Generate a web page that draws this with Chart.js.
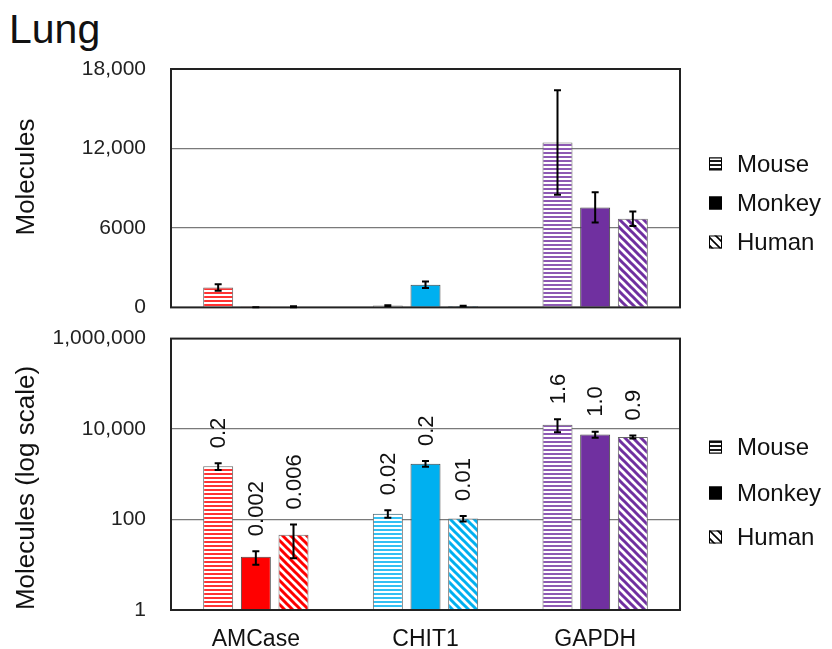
<!DOCTYPE html>
<html><head><meta charset="utf-8">
<script src="https://cdn.jsdelivr.net/npm/chart.js@4.4.1/dist/chart.umd.min.js"></script>
<style>
html,body{margin:0;padding:0;background:#fff;width:832px;height:649px;overflow:hidden;}
#title{position:absolute;left:9px;top:9px;font:41px/41px "Liberation Sans",Arial,sans-serif;color:#111;}
#w1{position:absolute;left:0;top:0;width:832px;height:345px;}
#w2{position:absolute;left:0;top:301px;width:832px;height:348px;}
</style></head><body>
<div id="title">Lung</div>
<div id="w1"><canvas id="c1"></canvas></div>
<div id="w2"><canvas id="c2"></canvas></div>
<script>
// ---- data ----
const genes = ['AMCase', 'CHIT1', 'GAPDH'];
const species = ['Mouse', 'Monkey', 'Human'];
const geneColors = ['#FF0000', '#00B0F0', '#7030A0'];

const mouseVals  = [1500, 135, 12450];
const mouseErr   = [250, 25, 3950];
const monkeyVals = [15, 1710, 7550];
const monkeyErr  = [5, 250, 1140];
const humanVals  = [46, 105, 6700];
const humanErr   = [32, 15, 550];

const mouseRatio  = ['0.2', '0.02', '1.6'];
const monkeyRatio = ['0.002', '0.2', '1.0'];
const humanRatio  = ['0.006', '0.01', '0.9'];

const linearTicks = [0, 6000, 12000, 18000];
const linearTickLabels = ['0', '6000', '12,000', '18,000'];
const logTicks = [1, 100, 10000, 1000000];
const logTickLabels = ['1', '100', '10,000', '1,000,000'];

const yTitleTop = 'Molecules';
const yTitleBottom = 'Molecules (log scale)';

// ---- styling helpers ----
const F = '"Liberation Sans", Arial, sans-serif';

function hPattern(color, alpha) {
  const c = document.createElement('canvas'); c.width = 4; c.height = 4;
  const x = c.getContext('2d');
  x.fillStyle = '#ffffff'; x.fillRect(0, 0, 4, 4);
  x.globalAlpha = alpha || 1;
  x.fillStyle = color; x.fillRect(0, 0, 4, 2);
  return x.createPattern(c, 'repeat');
}
function dPattern(color, w) {
  const s = 8;
  const c = document.createElement('canvas'); c.width = s; c.height = s;
  const x = c.getContext('2d');
  x.fillStyle = '#ffffff'; x.fillRect(0, 0, s, s);
  x.strokeStyle = color; x.lineWidth = w || 3; x.lineCap = 'square';
  x.beginPath();
  for (const k of [-1, 0, 1]) { x.moveTo(k * s - 2, -2); x.lineTo(k * s + s + 2, s + 2); }
  x.stroke();
  return x.createPattern(c, 'repeat');
}

function makeDatasets() {
  return [
    { label: species[0], data: mouseVals, errors: mouseErr, ratios: mouseRatio,
      backgroundColor: geneColors.map(c => hPattern(c, 0.8)), borderColor: '#666', borderWidth: 1 },
    { label: species[1], data: monkeyVals, errors: monkeyErr, ratios: monkeyRatio,
      backgroundColor: geneColors, borderColor: '#444', borderWidth: 1 },
    { label: species[2], data: humanVals, errors: humanErr, ratios: humanRatio,
      backgroundColor: geneColors.map(c => dPattern(c)), borderColor: '#666', borderWidth: 1 }
  ];
}

function makePlugins(opt) {
  return [{
    id: 'extras',
    afterDatasetsDraw(chart) {
      const ctx = chart.ctx, ys = chart.scales.y, a = chart.chartArea;
      // plot box
      ctx.save();
      ctx.strokeStyle = '#222'; ctx.lineWidth = 2;
      ctx.strokeRect(a.left, a.top, a.right - a.left, a.bottom - a.top);
      ctx.restore();
      // error bars + labels
      chart.data.datasets.forEach((ds, i) => {
        const meta = chart.getDatasetMeta(i);
        meta.data.forEach((bar, j) => {
          const v = ds.data[j], e = ds.errors[j];
          const top = ys.getPixelForValue(v + e);
          const bot = ys.getPixelForValue(Math.max(v - e, ys.min));
          ctx.save();
          ctx.strokeStyle = '#000'; ctx.lineWidth = 2;
          ctx.beginPath();
          ctx.moveTo(bar.x, top); ctx.lineTo(bar.x, bot);
          ctx.moveTo(bar.x - 3.5, top); ctx.lineTo(bar.x + 3.5, top);
          ctx.moveTo(bar.x - 3.5, bot); ctx.lineTo(bar.x + 3.5, bot);
          ctx.stroke();
          if (opt.labels) {
            ctx.translate(bar.x + 1, top - 15);
            ctx.rotate(-Math.PI / 2);
            ctx.fillStyle = '#111';
            ctx.font = '22px ' + F;
            ctx.textAlign = 'left'; ctx.textBaseline = 'middle';
            ctx.fillText(ds.ratios[j], 0, 0);
          }
          ctx.restore();
        });
      });
    },
    afterDraw(chart) {
      const ctx = chart.ctx;
      // y title
      ctx.save();
      ctx.translate(opt.titleX, opt.titleY);
      ctx.rotate(-Math.PI / 2);
      ctx.fillStyle = '#111';
      ctx.font = '26px ' + F;
      ctx.textAlign = 'center'; ctx.textBaseline = 'middle';
      ctx.fillText(opt.title, 0, 0);
      ctx.restore();
      // legend
      const icons = [hPattern('#000', 0.9), '#000', dPattern('#000', 1.6)];
      chart.data.datasets.forEach((ds, i) => {
        const cy = opt.legendY[i];
        ctx.save();
        ctx.fillStyle = icons[i];
        ctx.fillRect(709, cy - 6.5, 13, 13);
        ctx.strokeStyle = '#000'; ctx.lineWidth = 1;
        ctx.strokeRect(709.5, cy - 6, 12, 12);
        ctx.fillStyle = '#111';
        ctx.font = '24px ' + F;
        ctx.textAlign = 'left'; ctx.textBaseline = 'middle';
        ctx.fillText(ds.label, 737, cy + 1);
        ctx.restore();
      });
    }
  }];
}

function gridColor(minV, maxV) {
  return c => (c.tick && (c.tick.value === minV || c.tick.value === maxV)) ? 'rgba(0,0,0,0)' : '#7a7a7a';
}

// ---- top chart (linear) ----
new Chart(document.getElementById('c1'), {
  type: 'bar',
  data: { labels: genes, datasets: makeDatasets() },
  options: {
    responsive: true, maintainAspectRatio: false, animation: false,
    layout: { padding: { top: 69, bottom: 0, right: 152, left: 0 } },
    datasets: { bar: { categoryPercentage: 0.666, barPercentage: 0.796 } },
    plugins: { legend: { display: false }, tooltip: { enabled: false } },
    scales: {
      x: { display: false, offset: true },
      y: {
        type: 'linear', min: 0, max: 18000,
        afterBuildTicks: s => { s.ticks = linearTicks.map(v => ({ value: v })); },
        afterFit: s => { s.width = 171; },
        ticks: { padding: 25, color: '#222', font: { size: 21, family: F },
                 callback: (v, i) => linearTickLabels[i] },
        grid: { drawTicks: false, color: gridColor(0, 18000), lineWidth: 1.3 },
        border: { display: false }
      }
    }
  },
  plugins: makePlugins({ labels: false, title: yTitleTop, titleX: 27, titleY: 177, legendY: [164, 203, 242] })
});

// ---- bottom chart (log) ----
new Chart(document.getElementById('c2'), {
  type: 'bar',
  data: { labels: genes, datasets: makeDatasets() },
  options: {
    responsive: true, maintainAspectRatio: false, animation: false,
    layout: { padding: { top: 0, bottom: 0, right: 152, left: 0 } },
    datasets: { bar: { categoryPercentage: 0.666, barPercentage: 0.796 } },
    plugins: { legend: { display: false }, tooltip: { enabled: false } },
    scales: {
      x: {
        type: 'category', offset: true,
        afterFit: s => { s.height = 39; },
        ticks: { padding: 16, color: '#111', font: { size: 23, family: F }, maxRotation: 0 },
        grid: { display: false, drawTicks: false },
        border: { display: false }
      },
      y: {
        type: 'logarithmic', min: 1, max: 1000000,
        afterBuildTicks: s => { s.ticks = logTicks.map(v => ({ value: v })); },
        afterFit: s => { s.width = 171; },
        ticks: { padding: 25, color: '#222', font: { size: 21, family: F },
                 callback: (v, i) => logTickLabels[i] },
        grid: { drawTicks: false, color: gridColor(1, 1000000), lineWidth: 1.3 },
        border: { display: false }
      }
    }
  },
  plugins: makePlugins({ labels: true, title: yTitleBottom, titleX: 27, titleY: 187, legendY: [146, 192, 236] })
});
</script>
</body></html>
